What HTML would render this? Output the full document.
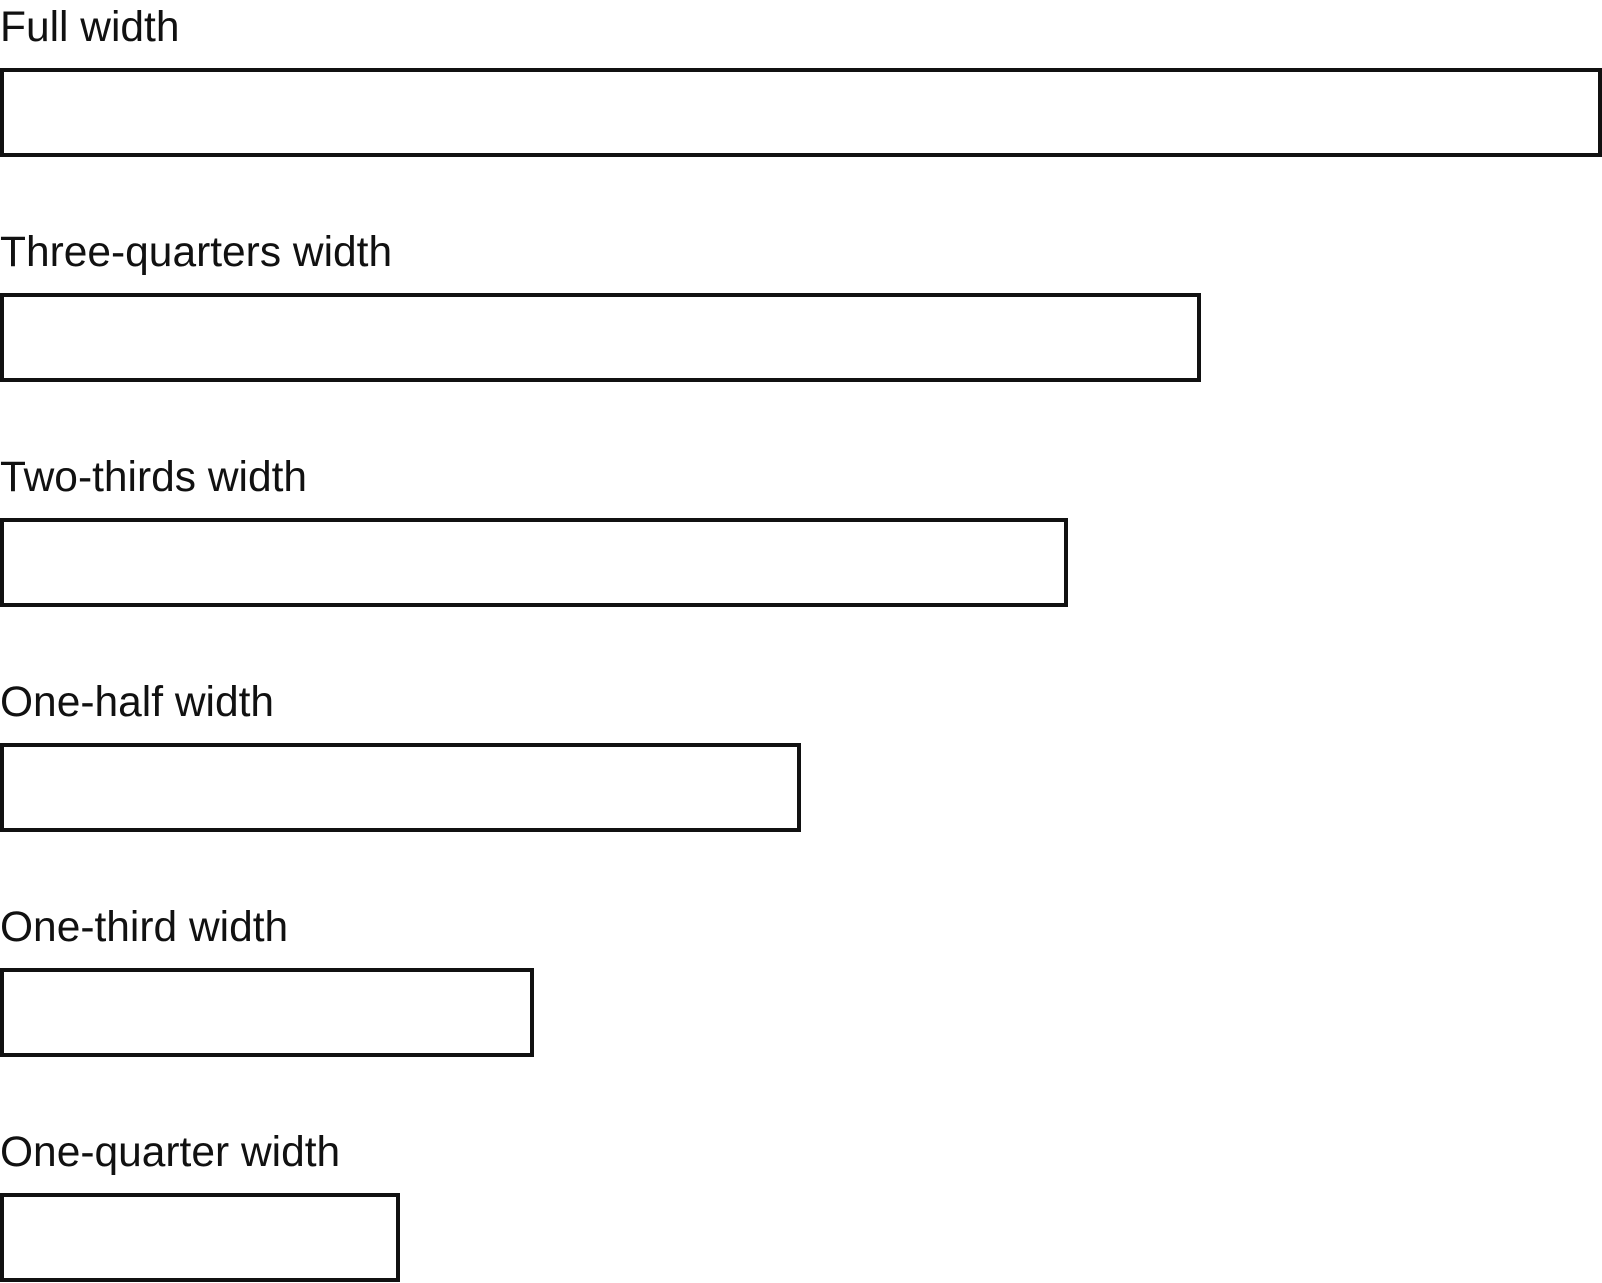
<!DOCTYPE html>
<html><head><meta charset="utf-8"><style>
html,body{margin:0;padding:0;background:#fff;width:1602px;height:1283px;overflow:hidden}
</style></head><body>
<svg width="1602" height="1283" xmlns="http://www.w3.org/2000/svg" style="display:block">
<g font-family="Liberation Sans, Arial, sans-serif" font-size="42.5" fill="#111">
<text x="0" y="41">Full width</text>
<text x="0" y="266">Three-quarters width</text>
<text x="0" y="491">Two-thirds width</text>
<text x="0" y="716">One-half width</text>
<text x="0" y="941">One-third width</text>
<text x="0" y="1166">One-quarter width</text>
</g>
<g fill="none" stroke="#111" stroke-width="4">
<rect x="2" y="70" width="1598" height="85"/>
<rect x="2" y="295" width="1197" height="85"/>
<rect x="2" y="520" width="1064" height="85"/>
<rect x="2" y="745" width="797" height="85"/>
<rect x="2" y="970" width="530" height="85"/>
<rect x="2" y="1195" width="396" height="85"/>
</g>
</svg>
</body></html>
